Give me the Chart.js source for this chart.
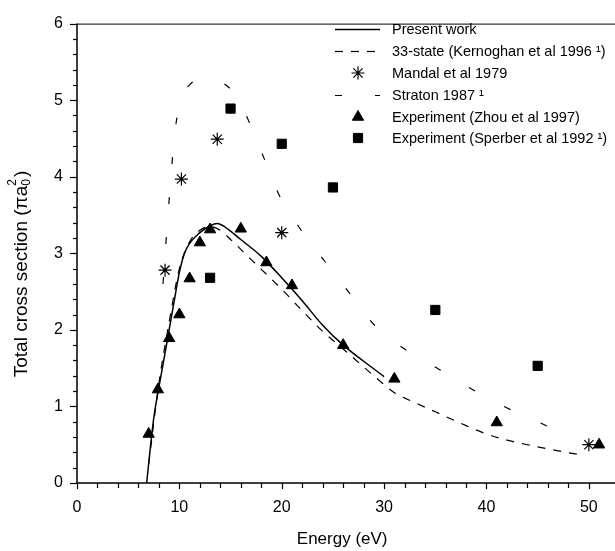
<!DOCTYPE html>
<html>
<head>
<meta charset="utf-8">
<script src="https://cdn.jsdelivr.net/npm/chart.js@4"></script>
<style>
  html, body { margin: 0; padding: 0; background: #fff; }
  #wrap { width: 615px; height: 551px; }
</style>
</head>
<body>
<div id="wrap"><canvas id="xsChart" width="615" height="551"></canvas></div>
<script>
// Present work (solid line)
const presentE = [6.8, 7.5, 8, 8.5, 9, 9.5, 10, 10.5, 11, 12, 13, 13.7, 14.5, 16, 18, 20, 22, 24, 26, 28, 30];
const presentS = [0.0, 0.85, 1.25, 1.62, 2.0, 2.38, 2.75, 3.0, 3.13, 3.27, 3.36, 3.39, 3.34, 3.18, 2.96, 2.68, 2.38, 2.06, 1.80, 1.59, 1.39];

// 33-state (Kernoghan et al 1996)
const kernE = [7, 8, 9, 10, 11, 12, 13, 14, 15, 17, 20, 22, 24, 26, 29, 31, 33, 35, 38, 40, 42, 44, 47, 49.5];
const kernS = [0.25, 1.3, 2.1, 2.8, 3.15, 3.3, 3.35, 3.3, 3.18, 2.92, 2.53, 2.25, 1.98, 1.75, 1.4, 1.18, 1.05, 0.93, 0.75, 0.64, 0.56, 0.5, 0.42, 0.36];

// Straton 1987
const stratE = [8.4, 9, 9.5, 10, 11, 12.4, 14, 15.4, 17, 18.3, 19.6, 21.6, 24, 26.5, 29, 32, 35.3, 38.5, 41.7, 45, 48.1];
const stratS = [2.6, 3.7, 4.5, 4.95, 5.2, 5.27, 5.24, 5.08, 4.66, 4.23, 3.8, 3.36, 2.93, 2.5, 2.07, 1.75, 1.49, 1.23, 1.0, 0.8, 0.61];

// Mandal et al 1979
const mandalE = [8.6, 10.2, 13.7, 20, 50];
const mandalS = [2.78, 3.97, 4.49, 3.27, 0.5];

// Experiment (Zhou et al 1997)
const zhouE = [7, 7.9, 9, 10, 11, 12, 13, 16, 18.5, 21, 26, 31, 41, 51];
const zhouS = [0.64, 1.22, 1.89, 2.2, 2.67, 3.14, 3.31, 3.32, 2.88, 2.58, 1.8, 1.36, 0.79, 0.5];

// Experiment (Sperber et al 1992)
const sperberE = [13, 15, 20, 25, 35, 45];
const sperberS = [2.68, 4.89, 4.43, 3.86, 2.26, 1.53];

const legendLabels = [
  'Present work',
  '33-state (Kernoghan et al 1996 \u00b9)',
  'Mandal et al 1979',
  'Straton 1987 \u00b9',
  'Experiment (Zhou et al 1997)',
  'Experiment (Sperber et al 1992 \u00b9)'
];

const xTicks = [0, 10, 20, 30, 40, 50];
const yTicks = [0, 1, 2, 3, 4, 5, 6];

function pts(xs, ys) {
  return xs.map((x, i) => ({ x: x, y: ys[i] }));
}

const FONT = '"Liberation Sans", Arial, sans-serif';

// minor/major ticks, frame, y title and the legend
const decorPlugin = {
  id: 'decor',
  afterDraw(chart) {
    const ctx = chart.ctx;
    const xs = chart.scales.x, ys = chart.scales.y;
    const area = chart.chartArea;
    ctx.save();
    ctx.strokeStyle = '#000';
    ctx.lineWidth = 1.2;
    // x ticks (major every 10, minor every 2)
    for (let v = 0; v <= 50; v += 2) {
      const px = Math.round(xs.getPixelForValue(v)) + 0.5;
      const len = v % 10 === 0 ? 6 : 5;
      ctx.beginPath();
      ctx.moveTo(px, area.bottom);
      ctx.lineTo(px, area.bottom + len);
      ctx.stroke();
    }
    // y ticks (major every 1, minor every 0.2)
    for (let i = 0; i <= 30; i++) {
      const v = i / 5;
      const py = Math.round(ys.getPixelForValue(v)) + 0.5;
      const len = i % 5 === 0 ? 7 : 4;
      ctx.beginPath();
      ctx.moveTo(area.left, py);
      ctx.lineTo(area.left - len, py);
      ctx.stroke();
    }
    // frame: left, bottom, top
    ctx.lineWidth = 1.5;
    ctx.beginPath();
    ctx.moveTo(area.left, area.top);
    ctx.lineTo(area.left, area.bottom);
    ctx.lineTo(chart.width, area.bottom);
    ctx.stroke();
    ctx.lineWidth = 1;
    ctx.beginPath();
    ctx.moveTo(area.left, area.top + 0.5);
    ctx.lineTo(chart.width, area.top + 0.5);
    ctx.stroke();

    // y axis title with sub/superscripts
    ctx.save();
    ctx.translate(22, 275);
    ctx.rotate(-Math.PI / 2);
    ctx.fillStyle = '#000';
    ctx.textBaseline = 'middle';
    const big = '19px ' + FONT, small = '12px ' + FONT;
    const parts = [
      ['Total cross section (', big, 0],
      ['\u03c0a', big, 0],
      ['0', small, 5],
      ['2', small, -9],
      [')', big, 0]
    ];
    let total = 0;
    parts.forEach((p, i) => {
      ctx.font = p[1];
      if (i !== 3) total += ctx.measureText(p[0]).width;
    });
    let cx = -total / 2;
    let subX = 0;
    parts.forEach((p, i) => {
      ctx.font = p[1];
      if (i === 3) {
        ctx.fillText(p[0], subX, p[2]);
        return;
      }
      if (i === 2) subX = cx;
      ctx.fillText(p[0], cx, p[2]);
      cx += ctx.measureText(p[0]).width + (i === 2 ? 2 : 0);
    });
    ctx.restore();

    // legend
    const lx0 = 335, lx1 = 380, tx = 392;
    const rowY = [29, 51, 73, 95, 117, 138];
    ctx.font = '14.5px ' + FONT;
    ctx.textBaseline = 'middle';
    ctx.fillStyle = '#000';
    chart.data.datasets.forEach((ds, i) => {
      const y = rowY[i];
      if (ds.showLine) {
        ctx.save();
        ctx.lineWidth = ds.borderWidth;
        ctx.setLineDash(ds.borderDash || []);
        ctx.beginPath();
        ctx.moveTo(lx0, y + 0.5);
        ctx.lineTo(lx1, y + 0.5);
        ctx.stroke();
        ctx.restore();
      } else {
        const el = { pointStyle: ds.pointStyle, radius: ds.pointRadius, rotation: 0, borderWidth: ds.borderWidth };
        ctx.save();
        ctx.fillStyle = '#000';
        ctx.strokeStyle = '#000';
        ctx.lineWidth = ds.borderWidth;
        Chart.helpers.drawPoint(ctx, el, 358, y);
        ctx.restore();
      }
      ctx.fillText(ds.label, tx, y + 1);
    });
    ctx.restore();
  }
};

const ctx = document.getElementById('xsChart').getContext('2d');
const chart = new Chart(ctx, {
  type: 'scatter',
  data: {
    datasets: [
      { label: legendLabels[0], data: pts(presentE, presentS), showLine: true, borderColor: '#000',
        borderWidth: 1.5, pointRadius: 0, cubicInterpolationMode: 'monotone' },
      { label: legendLabels[1], data: pts(kernE, kernS), showLine: true, borderColor: '#000',
        borderWidth: 1.2, borderDash: [8, 8], pointRadius: 0, cubicInterpolationMode: 'monotone' },
      { label: legendLabels[2], data: pts(mandalE, mandalS), showLine: false, pointStyle: 'star',
        pointRadius: 6.5, borderColor: '#000', backgroundColor: '#000', borderWidth: 1.2 },
      { label: legendLabels[3], data: pts(stratE, stratS), showLine: true, borderColor: '#000',
        borderWidth: 1.2, borderDash: [7, 33], pointRadius: 0, cubicInterpolationMode: 'monotone' },
      { label: legendLabels[4], data: pts(zhouE, zhouS), showLine: false, pointStyle: 'triangle',
        pointRadius: 6.5, borderColor: '#000', backgroundColor: '#000', borderWidth: 1 },
      { label: legendLabels[5], data: pts(sperberE, sperberS), showLine: false, pointStyle: 'rect',
        pointRadius: 6.5, borderColor: '#000', backgroundColor: '#000', borderWidth: 1 }
    ]
  },
  options: {
    responsive: false,
    animation: false,
    layout: { padding: { top: 11, right: 0, left: 0, bottom: 0 } },
    plugins: { legend: { display: false }, tooltip: { enabled: false } },
    scales: {
      x: {
        type: 'linear', min: 0, max: 51.8,
        afterBuildTicks: s => { s.ticks = xTicks.map(v => ({ value: v })); },
        afterFit: s => { s.height = 68; },
        grid: { display: false, drawTicks: false },
        border: { display: false },
        ticks: { color: '#000', font: { family: FONT, size: 16 }, padding: 15, maxRotation: 0 },
        title: { display: true, text: 'Energy (eV)', color: '#000', font: { family: FONT, size: 17 }, padding: { top: 0, bottom: 1 } }
      },
      y: {
        type: 'linear', min: 0, max: 6,
        afterBuildTicks: s => { s.ticks = yTicks.map(v => ({ value: v })); },
        afterFit: s => { s.width = 77; },
        grid: { display: false, drawTicks: false },
        border: { display: false },
        ticks: { color: '#000', font: { family: FONT, size: 16 }, padding: 14 },
        title: { display: false }
      }
    }
  },
  plugins: [decorPlugin]
});
</script>
</body>
</html>
